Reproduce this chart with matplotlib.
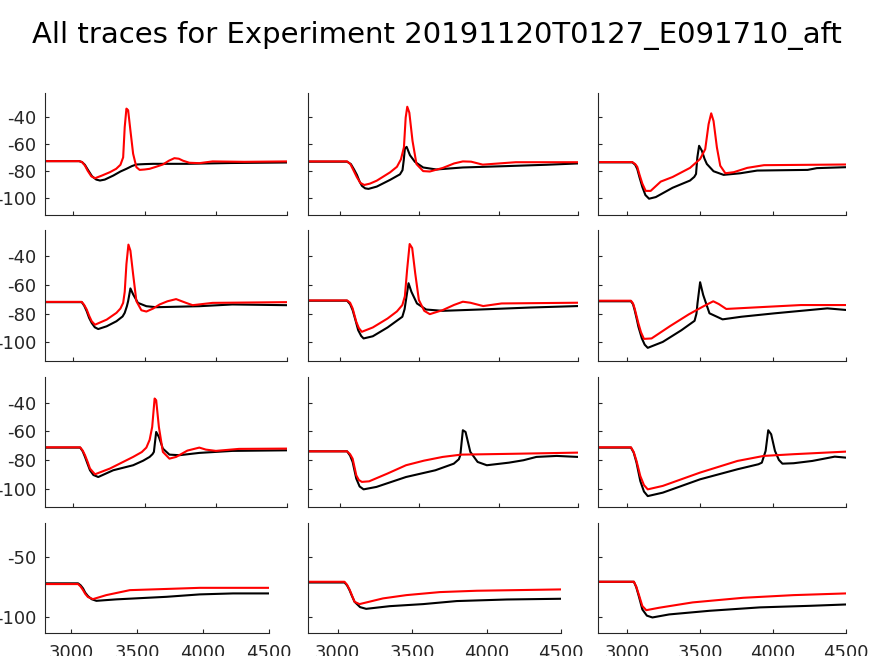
import matplotlib
matplotlib.use("Agg")
import matplotlib.pyplot as plt

# traces: (time, voltage) pairs, one black + one red per panel
p1_black = [(2800, -72.8), (3040, -72.8), (3060, -73.5), (3080, -75.5), (3100, -79), (3130, -84), (3160, -86.5),
            (3186, -87.2), (3220, -86.5), (3280, -83.5), (3330, -80.5), (3372, -78.5), (3410, -76.5), (3442, -75.3),
            (3500, -75), (3558, -74.8), (3800, -74.8), (4100, -74.2), (4500, -73.8)]
p1_red = [(2800, -72.8), (3040, -72.8), (3060, -73.5), (3080, -76), (3100, -80), (3125, -84), (3151, -85.5),
          (3200, -83.5), (3256, -81), (3300, -78.5), (3330, -75.5), (3349, -70), (3360, -47.5), (3372, -33.8),
          (3384, -35), (3400, -50), (3419, -67.3), (3442, -77.3), (3465, -79.3), (3500, -79), (3535, -78.5),
          (3580, -77), (3628, -75.3), (3670, -72.5), (3709, -70.6), (3740, -71), (3770, -72.5), (3814, -74),
          (3884, -74.3), (3977, -73), (4200, -73.3), (4500, -73)]

p2_black = [(2800, -73.2), (3046, -73.2), (3070, -75), (3090, -79), (3108, -83), (3125, -88), (3140, -91.2),
            (3160, -93), (3181, -93.4), (3233, -91.7), (3317, -86.7), (3379, -82.6), (3395, -79.5), (3403, -72),
            (3410, -63.4), (3421, -62.2), (3442, -68.4), (3473, -73.3), (3525, -77.5), (3608, -79), (3775, -77.5),
            (4046, -76.5), (4300, -75.5), (4500, -74.5)]
p2_red = [(2800, -73), (3046, -73), (3067, -75), (3088, -80), (3108, -84.8), (3130, -89), (3154, -90.5),
          (3190, -89.5), (3233, -87.3), (3317, -81.1), (3360, -77), (3385, -71.5), (3404, -62.5), (3415, -40.5),
          (3425, -32.4), (3438, -36.8), (3458, -57.7), (3483, -75), (3525, -80.2), (3567, -80.5), (3650, -77.8),
          (3720, -74.5), (3775, -73), (3827, -73.2), (3900, -75.4), (4108, -73.6), (4500, -73.6)]

p3_black = [(2800, -73.7), (3035, -73.7), (3055, -75.5), (3069, -78.6), (3085, -85), (3104, -92), (3125, -98),
            (3150, -100.7), (3196, -99.5), (3311, -92.6), (3431, -87.2), (3460, -84.5), (3472, -82.3), (3481, -70),
            (3493, -61.4), (3512, -65.1), (3530, -71), (3546, -74.9), (3592, -80.3), (3661, -83), (3776, -81.8),
            (3891, -79.8), (4237, -79.3), (4300, -78), (4500, -77.3)]
p3_red = [(2800, -73.5), (3035, -73.5), (3055, -75), (3069, -77), (3085, -83), (3104, -89.5), (3127, -94.9),
          (3161, -94.9), (3230, -88), (3311, -84.6), (3431, -77.8), (3500, -71.2), (3535, -63.9), (3558, -45.4),
          (3576, -37.3), (3592, -43), (3615, -62.6), (3638, -76.2), (3673, -81.8), (3731, -81), (3823, -77.8),
          (3938, -75.8), (4500, -75.3)]

p4_black = [(2800, -72.1), (3058, -72.1), (3075, -74.5), (3093, -78.4), (3110, -83), (3128, -86.5), (3150, -89.5),
            (3174, -90.7), (3233, -88.8), (3302, -85.3), (3345, -82), (3360, -79.5), (3375, -75), (3384, -71.4),
            (3400, -62.6), (3419, -66.7), (3453, -72.6), (3512, -74.9), (3581, -75.6), (3884, -74.9),
            (4116, -73.7), (4500, -74.2)]
p4_red = [(2800, -71.9), (3058, -71.9), (3075, -74), (3093, -77.2), (3110, -81.5), (3128, -85.3), (3151, -87.7),
          (3233, -84.2), (3302, -79.5), (3330, -76.5), (3349, -72.6), (3360, -65), (3372, -45.8), (3386, -32.3),
          (3400, -36.5), (3419, -52.8), (3442, -71.4), (3477, -77.7), (3512, -78.6), (3560, -76.5), (3605, -73.7),
          (3660, -71.5), (3721, -70), (3791, -72.6), (3837, -74.2), (3977, -72.6), (4500, -72.1)]

p5_black = [(2800, -71.1), (3046, -71.1), (3065, -73.5), (3081, -77.6), (3100, -85), (3116, -91.5), (3135, -95.5),
            (3150, -97.2), (3208, -95.7), (3301, -89.6), (3394, -82.2), (3408, -77), (3417, -70.6), (3433, -59),
            (3451, -64.9), (3486, -73), (3544, -77.2), (3648, -78.1), (3880, -77.2), (4204, -75.8), (4500, -74.8)]
p5_red = [(2800, -70.9), (3046, -70.9), (3065, -72.5), (3081, -76.4), (3104, -85.7), (3120, -90), (3139, -92.6),
          (3208, -89.6), (3301, -83.4), (3360, -78.5), (3394, -74.1), (3410, -68), (3424, -49.7), (3440, -31.9),
          (3456, -34.7), (3475, -52.1), (3498, -70.6), (3532, -78.1), (3567, -80.4), (3648, -77.6), (3720, -74),
          (3775, -71.8), (3822, -72.5), (3903, -74.8), (4019, -73), (4500, -72.5)]

p6_black = [(2800, -71.5), (3026, -71.5), (3040, -73.5), (3051, -77.5), (3065, -83.5), (3077, -89.1), (3100, -97),
            (3120, -101.5), (3141, -103.7), (3244, -99.6), (3372, -91.5), (3462, -85), (3475, -80), (3482, -72.9),
            (3500, -58.3), (3521, -67.1), (3564, -79.8), (3654, -84), (3782, -82.2), (4013, -79.8), (4372, -76.4),
            (4500, -77.5)]
p6_red = [(2800, -71.1), (3026, -71.1), (3040, -73), (3051, -76.4), (3077, -86.8), (3095, -93), (3115, -97.5),
          (3167, -97.2), (3295, -88.6), (3423, -80.5), (3526, -74.8), (3590, -71.5), (3628, -73.4), (3679, -76.8),
          (3885, -75.7), (4192, -74.1), (4500, -74.1)]

p7_black = [(2800, -71.4), (3047, -71.4), (3065, -74), (3081, -77.9), (3100, -83), (3116, -87.2), (3140, -90.5),
            (3174, -91.9), (3279, -87.2), (3419, -83.7), (3490, -80.5), (3535, -77.9), (3555, -76), (3565, -74.4),
            (3581, -60.5), (3600, -64), (3628, -72.1), (3674, -76.3), (3744, -76.7), (3884, -75.1), (4116, -73.7),
            (4500, -73.3)]
p7_red = [(2800, -71.2), (3047, -71.2), (3065, -73.5), (3081, -76.7), (3100, -81.5), (3116, -86), (3151, -90),
          (3256, -86), (3419, -77.9), (3480, -74.5), (3512, -71.4), (3535, -66), (3553, -57), (3570, -37.2),
          (3581, -38.4), (3600, -57), (3628, -74.4), (3674, -79.1), (3721, -77.9), (3800, -73.5), (3884, -71.4),
          (3930, -72.8), (4000, -73.7), (4163, -72.3), (4500, -72.1)]

p8_black = [(2800, -74), (3046, -74), (3065, -77), (3081, -81.4), (3104, -93), (3125, -98.5), (3150, -100.5),
            (3231, -98.8), (3417, -91.9), (3602, -87.2), (3718, -82.6), (3750, -79.5), (3759, -76.7), (3775, -59.3),
            (3792, -60.5), (3822, -74.4), (3868, -81.4), (3926, -83.7), (4065, -81.9), (4157, -80.2), (4238, -77.9),
            (4366, -77.2), (4500, -77.9)]
p8_red = [(2800, -74), (3046, -74), (3065, -76), (3081, -79.1), (3104, -90.7), (3120, -94), (3139, -95.3),
          (3185, -94.9), (3300, -89.5), (3417, -83.7), (3530, -80.5), (3648, -77.9), (3764, -76.3), (4100, -75.7),
          (4500, -74.9)]

p9_black = [(2800, -71.4), (3026, -71.4), (3045, -75), (3064, -81.9), (3090, -94.7), (3115, -102), (3141, -105.2),
            (3244, -102.8), (3500, -93.5), (3756, -86.5), (3900, -83), (3923, -81.9), (3949, -73.7), (3967, -59.3),
            (3987, -62.1), (4013, -73.7), (4040, -80), (4064, -82.6), (4141, -82.3), (4269, -80.7), (4423, -77.7),
            (4500, -78.4)]
p9_red = [(2800, -71.2), (3026, -71.2), (3045, -74.5), (3064, -80.7), (3090, -91.2), (3115, -97.5), (3141, -100.5),
          (3244, -98.1), (3500, -88.8), (3756, -80.7), (3936, -77.2), (4141, -76), (4500, -74.2)]

p10_black = [(2800, -71.9), (3051, -71.9), (3070, -73.5), (3089, -76.1), (3105, -79.5), (3126, -82.4), (3155, -85),
             (3190, -86.3), (3341, -85.1), (3721, -83), (3975, -81), (4227, -80.2), (4500, -80.2)]
p10_red = [(2800, -72.5), (3051, -72.5), (3070, -74.5), (3089, -77.5), (3105, -80.5), (3126, -83.2), (3164, -84.9),
           (3265, -81.6), (3444, -77.5), (3672, -76.7), (3975, -75.6), (4500, -75.6)]

p11_black = [(2800, -71.2), (3045, -71.2), (3062, -73.5), (3079, -77.5), (3096, -82.5), (3113, -87.1), (3150, -91.5),
             (3191, -92.9), (3349, -90.7), (3574, -89), (3799, -86.5), (4136, -85.2), (4500, -84.6)]
p11_red = [(2800, -70.6), (3045, -70.6), (3062, -73), (3079, -76.9), (3096, -82), (3113, -87.1), (3146, -89),
           (3220, -86.8), (3304, -84.3), (3461, -81.6), (3687, -79.1), (3934, -78), (4500, -76.9)]

p12_black = [(2800, -70.6), (3046, -70.6), (3062, -75), (3081, -83), (3104, -93.4), (3135, -98.5), (3173, -100),
             (3288, -97.5), (3565, -94.5), (3910, -91.7), (4256, -90.4), (4500, -89.3)]
p12_red = [(2800, -70.6), (3046, -70.6), (3062, -74.5), (3081, -81.6), (3104, -90.6), (3131, -94), (3219, -92),
           (3449, -87.6), (3795, -83.8), (4141, -81.6), (4500, -80.2)]

panels = [(p1_black, p1_red), (p2_black, p2_red), (p3_black, p3_red),
          (p4_black, p4_red), (p5_black, p5_red), (p6_black, p6_red),
          (p7_black, p7_red), (p8_black, p8_red), (p9_black, p9_red),
          (p10_black, p10_red), (p11_black, p11_red), (p12_black, p12_red)]

x_ticks = [3000, 3500, 4000, 4500]
y_ticks_top = [-100, -80, -60, -40]
y_ticks_bottom = [-100, -50]
title = "All traces for Experiment 20191120T0127_E091710_aft"

W, H = 874, 656
# axes boxes in pixels (left, right, top, bottom)
row_tb = [(93, 215), (230, 361), (377, 507), (523, 633)]
col_lr = [(45, 287), (308, 578), (598, 846)]
col_lr_last = [(45, 269), (308, 561), (598, 846)]

plt.rcParams['axes.unicode_minus'] = False
gray = '#262626'

fig = plt.figure(figsize=(W / 100, H / 100), dpi=100)
fig.text(0.5, 1 - 35 / H, title, ha='center', va='center', fontsize=21)

for i, (black, red) in enumerate(panels):
    r, c = divmod(i, 3)
    t, b = row_tb[r]
    l, rr = (col_lr_last if r == 3 else col_lr)[c]
    ax = fig.add_axes([l / W, 1 - b / H, (rr - l) / W, (b - t) / H])

    ax.plot([p[0] for p in black], [p[1] for p in black], color='black', lw=1.5)
    ax.plot([p[0] for p in red], [p[1] for p in red], color='red', lw=1.5)

    ax.set_xlim(2800, 4500)
    ax.set_ylim(-112.8, -22.2)
    ax.set_xticks(x_ticks)
    ax.set_yticks(y_ticks_bottom if r == 3 else y_ticks_top)
    if r < 3:
        ax.set_xticklabels([])
    if c > 0:
        ax.set_yticklabels([])

    for side in ['top', 'right']:
        ax.spines[side].set_visible(False)
    for side in ['left', 'bottom']:
        ax.spines[side].set_color(gray)
        ax.spines[side].set_linewidth(0.8)
    ax.tick_params(direction='in', length=3, width=0.8, colors=gray, labelsize=13, pad=6)
    ax.tick_params(axis='x', pad=8)

fig.savefig('out.png', dpi=100)
